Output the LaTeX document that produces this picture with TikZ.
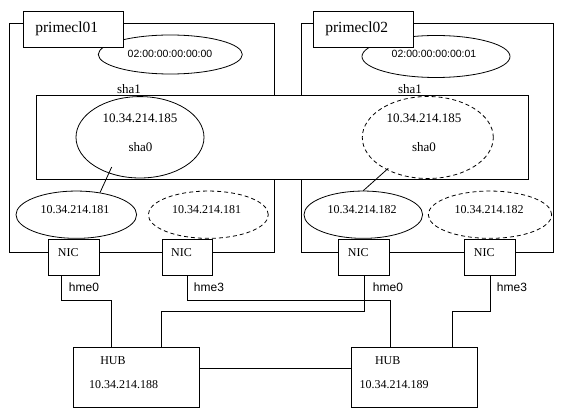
\documentclass[tikz,border=0pt]{standalone}
\usepackage{fontspec}
\setmainfont{Liberation Serif}
\newfontfamily\sansf{Liberation Sans}
\usetikzlibrary{shapes.geometric}
\begin{document}
\begin{tikzpicture}[x=1pt,y=-1pt, line width=0.8pt,
  frame/.style={draw, rectangle, inner sep=0pt, anchor=north west},
  wbox/.style={draw, fill=white, rectangle, inner sep=0pt, anchor=north west},
  ell/.style={draw, ellipse, inner sep=0pt},
  dash4/.style={dash pattern=on 4pt off 3pt},
  txt/.style={inner sep=0pt, font=\fontsize{12}{14}\selectfont},
  btxt/.style={inner sep=0pt, font=\fontsize{13}{15}\selectfont},
  ttl/.style={inner sep=0pt, font=\fontsize{15.5}{18}\selectfont},
  stxt/.style={inner sep=0pt, font=\sansf\fontsize{12}{14}\selectfont},
  mtxt/.style={inner sep=0pt, font=\sansf\fontsize{10.5}{12}\selectfont}
]
\useasboundingbox (0,0) rectangle (563,417);

% host frames
\node[frame, minimum width=265.3pt, minimum height=228.4pt] (host1) at (9,23.3) {};
\node[frame, minimum width=252pt, minimum height=228.4pt] (host2) at (300.7,23.3) {};

% MAC ellipses
\node[ell, minimum width=144pt, minimum height=39pt] (mac1) at (170.3,54.5) {};
\node[ell, minimum width=148pt, minimum height=42pt] (mac2) at (436,56.5) {};
\node[mtxt] (mac1t) at (170,53.5) {02:00:00:00:00:00};
\node[mtxt] (mac2t) at (434,53.5) {02:00:00:00:00:01};

% host labels
\node[wbox, minimum width=100pt, minimum height=36pt] (lab1) at (23,11) {};
\node[wbox, minimum width=100pt, minimum height=36pt] (lab2) at (313.3,11) {};
\node[ttl] (lab1t) at (66.7,28.5) {primecl01};
\node[ttl] (lab2t) at (356.7,28.5) {primecl02};

% sha1 box
\node[wbox, minimum width=492pt, minimum height=84.3pt] (sha1) at (35.7,95) {};
\node[btxt] (sha1l) at (129,89) {sha1};
\node[btxt] (sha1r) at (410,89) {sha1};

% virtual IP ellipses
\node[ell, minimum width=128pt, minimum height=81.4pt] (vip1) at (140,137.3) {};
\node[ell, dash4, minimum width=131pt, minimum height=82pt] (vip2) at (427.8,137.5) {};
\node[btxt] (vip1ip) at (140,118) {10.34.214.185};
\node[btxt] (vip1n) at (140.5,147.3) {sha0};
\node[btxt] (vip2ip) at (424,118) {10.34.214.185};
\node[btxt] (vip2n) at (424,147.3) {sha0};

% physical IP ellipses
\node[ell, minimum width=120.6pt, minimum height=47.3pt] (e1) at (76.3,214.7) {};
\node[ell, dash4, minimum width=120pt, minimum height=47.3pt] (e2) at (208.3,214.7) {};
\node[ell, minimum width=118.6pt, minimum height=47.3pt] (e3) at (363.3,214.7) {};
\node[ell, dash4, minimum width=123.4pt, minimum height=47.3pt] (e4) at (490,214.7) {};
\node[txt] (e1t) at (75,210) {10.34.214.181};
\node[txt] (e2t) at (206.7,210) {10.34.214.181};
\node[txt] (e3t) at (362,210) {10.34.214.182};
\node[txt] (e4t) at (489,210) {10.34.214.182};

% links vip -> physical
\coordinate (v1in) at (111.7,167);
\coordinate (v2in) at (388.3,168.3);
\draw (v1in) -- (e1.43.6);
\draw (v2in) -- (e3.north);

% NICs
\node[wbox, minimum width=50.4pt, minimum height=35.7pt] (nic1) at (48.3,239.3) {};
\node[wbox, minimum width=50.6pt, minimum height=35.7pt] (nic2) at (161.7,239.3) {};
\node[wbox, minimum width=50.4pt, minimum height=35.7pt] (nic3) at (338.3,239.3) {};
\node[wbox, minimum width=50.4pt, minimum height=35.7pt] (nic4) at (464.3,239.3) {};
\node[txt] (nic1t) at (68.3,252.3) {NIC};
\node[txt] (nic2t) at (181.5,252.3) {NIC};
\node[txt] (nic3t) at (358.3,252.3) {NIC};
\node[txt] (nic4t) at (484.3,252.3) {NIC};

% HUBs
\node[wbox, minimum width=126pt, minimum height=60pt] (hub1) at (73.3,347.3) {};
\node[wbox, minimum width=126pt, minimum height=60pt] (hub2) at (350.7,347.3) {};
\node[txt] (hub1t) at (113,361) {HUB};
\node[txt] (hub1ip) at (123.5,385) {10.34.214.188};
\node[txt] (hub2t) at (387.7,361) {HUB};
\node[txt] (hub2ip) at (394,385) {10.34.214.189};

% wires
\draw ([xshift=-12.8pt]nic1.south) -- ++(0,24.3) -| ([xshift=-25pt]hub1.north);
\draw (nic2.south) -- ++(0,24.3) -| ([xshift=-24pt]hub2.north);
\draw (nic3.south) -- ++(0,36) -| ([xshift=25pt]hub1.north);
\draw (nic4.south) -- ++(0,36) -| ([xshift=38pt]hub2.north);
\draw ([yshift=9pt]hub1.east) -- ([yshift=9pt]hub2.west);

% interface labels
\node[stxt] (if1) at (84,287) {hme0};
\node[stxt] (if2) at (209,287) {hme3};
\node[stxt] (if3) at (388,287) {hme0};
\node[stxt] (if4) at (512,287) {hme3};
\end{tikzpicture}
\end{document}
